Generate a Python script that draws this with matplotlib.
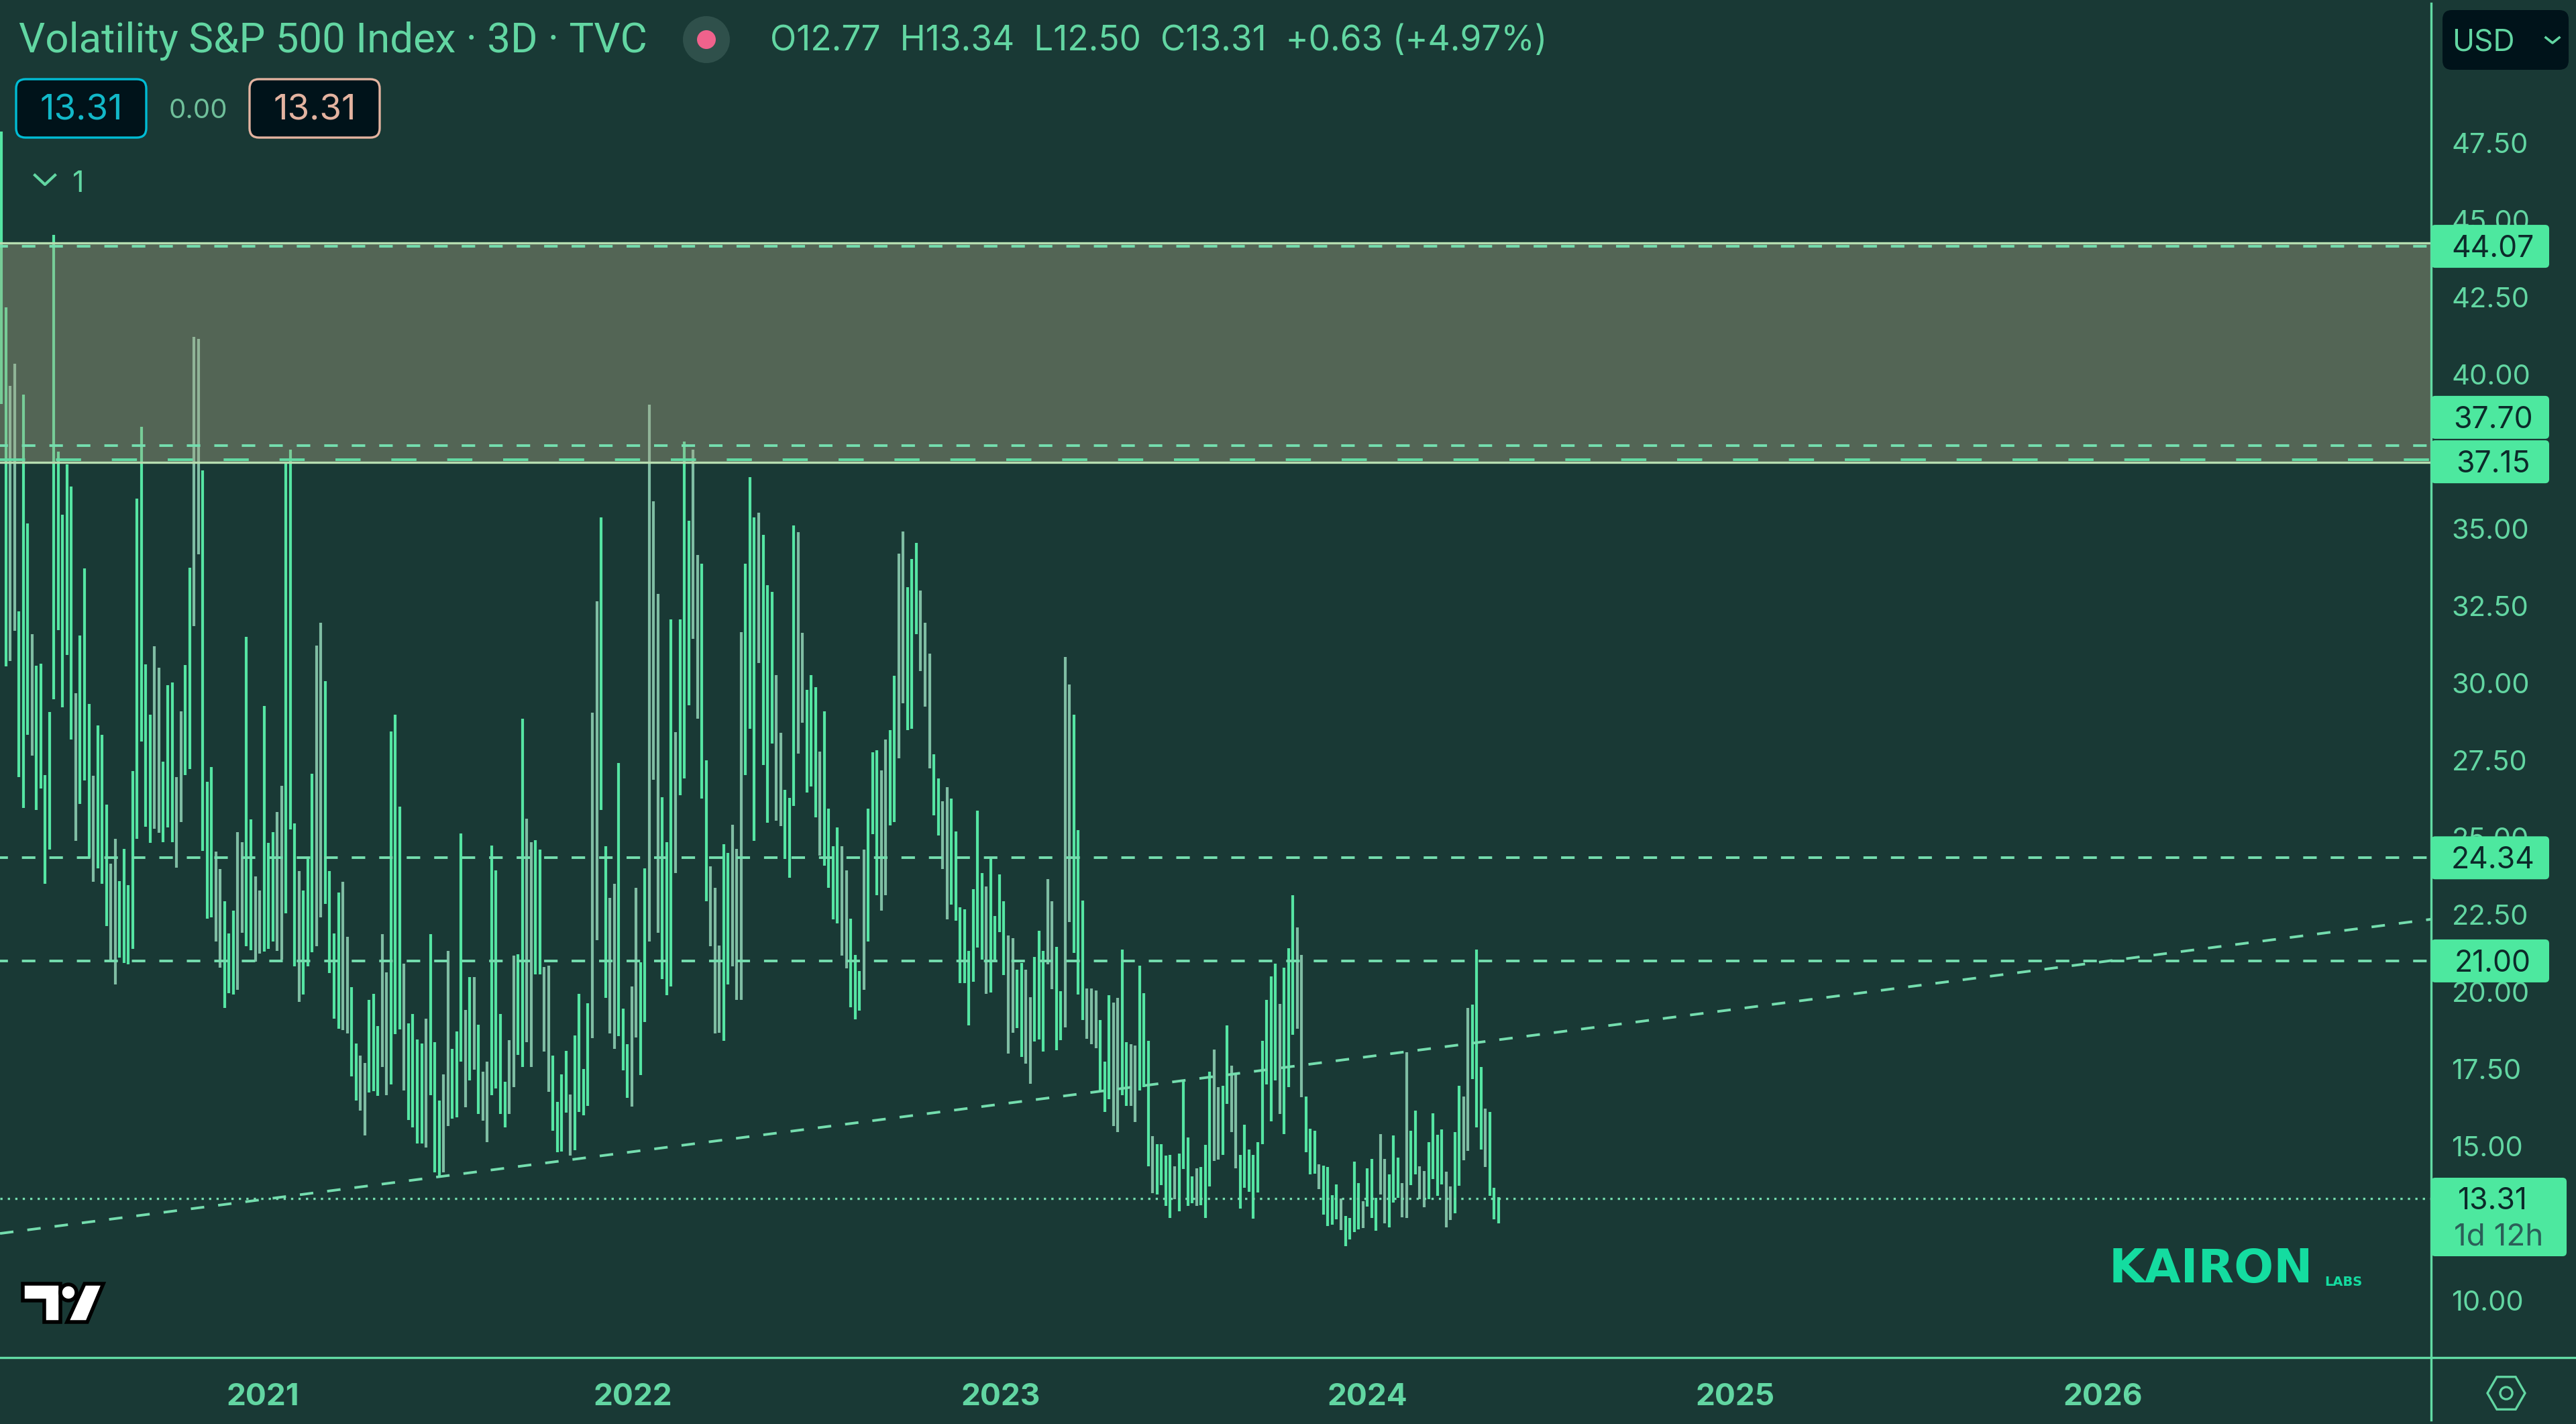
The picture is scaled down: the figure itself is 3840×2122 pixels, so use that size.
import matplotlib
matplotlib.use("Agg")
import matplotlib.pyplot as plt
from matplotlib.patches import FancyBboxPatch, Polygon, Circle, RegularPolygon

plt.rcParams['font.family'] = ['Inter', 'DejaVu Sans']
plt.rcParams['lines.scale_dashes'] = False

# 3D bars, left to right
highs = [47.87, 42.17, 39.63, 40.34, 32.32, 39.34, 35.17, 31.58, 30.56, 30.63,
         27.02, 29.06, 44.52, 37.5, 35.45, 37.08, 36.37, 29.67, 31.54, 33.71,
         29.32, 26.99, 28.63, 28.32, 26.06, 24.15, 24.95, 23.58, 24.63, 23.45,
         27.15, 35.98, 38.3, 30.6, 28.97, 31.19, 30.5, 27.45, 29.93, 30.02,
         26.95, 29.08, 30.58, 33.74, 41.21, 41.15, 36.89, 26.8, 27.28, 24.54,
         23.97, 22.93, 21.89, 22.63, 25.17, 24.84, 31.5, 25.58, 23.73, 23.28,
         29.26, 24.82, 25.17, 25.82, 26.67, 37.15, 37.56, 25.45, 23.91, 23.28,
         24.3, 27.06, 31.21, 31.95, 30.06, 23.91, 21.89, 23.21, 23.56, 21.78,
         20.15, 18.32, 17.93, 17.69, 19.74, 19.93, 18.89, 21.87, 20.63, 28.43,
         28.97, 25.99, 20.91, 18.97, 19.28, 18.45, 18.32, 19.13, 21.87, 18.37,
         16.47, 17.32, 21.32, 18.15, 18.71, 25.13, 19.41, 20.47, 20.47, 18.93,
         17.41, 17.74, 24.74, 23.93, 19.28, 17.08, 18.43, 21.17, 21.21, 28.84,
         25.6, 24.84, 24.91, 24.6, 20.8, 20.84, 17.93, 16.43, 17.32, 18.08,
         16.67, 18.58, 19.93, 17.5, 19.63, 29.04, 32.65, 35.37, 24.71, 23.04,
         23.5, 27.41, 19.45, 18.3, 20.17, 23.37, 20.95, 23.99, 39.02, 35.89,
         32.89, 26.3, 24.84, 32.06, 28.41, 32.06, 37.82, 35.26, 37.56, 34.15,
         33.87, 27.5, 24.06, 23.37, 21.5, 24.78, 24.5, 25.41, 24.63, 31.65,
         33.87, 36.67, 35.37, 35.52, 34.8, 33.17, 32.95, 30.26, 28.39, 26.54,
         26.28, 35.1, 34.89, 31.63, 29.78, 30.26, 29.87, 27.78, 29.08, 25.93,
         24.71, 25.32, 24.71, 23.93, 22.37, 21.19, 20.67, 24.61, 25.93, 27.76,
         27.82, 27.17, 28.17, 28.47, 30.23, 34.19, 34.91, 33.1, 34.02, 34.54,
         32.99, 31.95, 30.96, 27.69, 26.91, 26.17, 26.63, 26.26, 25.19, 22.74,
         22.67, 21.32, 23.32, 25.87, 23.84, 23.41, 24.34, 22.45, 23.8, 22.93,
         21.82, 21.73, 20.71, 20.93, 20.71, 19.82, 21.13, 21.97, 21.32, 23.65,
         22.93, 21.45, 20.02, 30.84, 29.95, 28.97, 25.23, 22.95, 20.1, 20.1,
         20.04, 19.08, 17.74, 19.89, 19.65, 19.8, 21.37, 18.37, 18.3, 18.26,
         20.84, 19.95, 18.41, 15.32, 15.06, 15.06, 14.69, 14.71, 14.34, 14.76,
         17.13, 15.28, 14.02, 14.28, 14.32, 15.04, 17.41, 18.13, 16.91, 16.95,
         18.91, 17.6, 17.32, 14.71, 15.69, 14.89, 14.71, 15.13, 18.41, 19.74,
         20.5, 20.91, 19.6, 20.78, 21.41, 23.13, 22.08, 21.19, 16.61, 15.56,
         15.5, 14.41, 14.37, 14.32, 13.41, 13.76, 13.3, 12.73, 12.67, 14.5,
         13.8, 13.21, 14.28, 14.58, 13.32, 15.39, 14.58, 14.08, 15.34, 14.63,
         13.8, 18.04, 15.5, 16.15, 14.34, 14.19, 15.13, 16.06, 15.36, 15.54,
         14.17, 13.69, 15.45, 16.95, 16.61, 19.47, 19.58, 21.37, 17.56, 16.21,
         16.1, 13.65, 13.34]
lows = [39.04, 30.54, 30.71, 31.69, 26.95, 25.95, 28.32, 27.65, 25.89, 26.58,
        23.5, 24.6, 29.47, 31.71, 29.21, 30.91, 28.17, 24.89, 26.08, 26.84,
        24.34, 23.56, 24.0, 23.5, 22.13, 20.98, 20.23, 21.11, 20.93, 20.89,
        21.39, 24.95, 28.11, 25.34, 24.82, 25.28, 25.15, 24.84, 25.32, 24.84,
        24.02, 25.5, 27.02, 27.21, 31.84, 34.17, 24.56, 22.37, 22.41, 21.63,
        20.78, 19.47, 19.95, 19.91, 20.06, 21.91, 21.47, 21.34, 20.98, 21.24,
        21.3, 21.39, 21.63, 21.32, 21.04, 22.54, 25.26, 20.82, 19.67, 19.91,
        20.82, 21.28, 21.47, 22.41, 22.84, 20.61, 19.13, 18.8, 18.76, 18.65,
        17.26, 16.47, 16.15, 15.34, 16.74, 16.78, 16.63, 17.56, 16.65, 16.99,
        18.63, 18.78, 16.8, 15.84, 15.6, 15.08, 15.08, 14.95, 16.65, 14.15,
        14.02, 14.15, 15.65, 15.89, 15.93, 17.74, 16.26, 17.13, 17.47, 16.04,
        15.82, 15.13, 16.65, 16.87, 16.04, 15.6, 16.04, 16.91, 17.95, 17.56,
        18.37, 17.56, 20.56, 20.56, 18.06, 16.76, 15.49, 14.8, 14.82, 16.08,
        14.69, 14.87, 16.1, 16.0, 16.3, 18.5, 21.67, 25.89, 19.8, 18.65,
        18.15, 18.56, 17.45, 16.56, 16.28, 18.52, 17.3, 19.02, 21.63, 26.87,
        21.91, 20.41, 19.89, 20.17, 23.84, 26.36, 26.91, 29.28, 31.43, 28.84,
        26.26, 22.93, 21.47, 18.65, 18.67, 18.41, 20.23, 20.82, 19.74, 19.74,
        27.02, 28.52, 24.89, 30.65, 27.34, 25.47, 28.04, 25.54, 25.37, 24.3,
        23.69, 26.02, 27.71, 28.71, 26.45, 26.65, 25.65, 24.41, 24.08, 23.37,
        22.34, 22.21, 21.17, 20.76, 19.5, 19.11, 19.39, 20.06, 21.63, 25.11,
        23.13, 22.63, 23.13, 25.39, 25.5, 27.56, 29.34, 28.47, 28.52, 31.58,
        30.39, 29.23, 27.24, 25.71, 25.06, 23.97, 22.34, 22.82, 22.3, 20.28,
        20.28, 18.91, 20.32, 21.43, 21.04, 19.93, 19.97, 21.0, 21.93, 20.54,
        18.0, 18.67, 18.82, 17.89, 17.67, 17.02, 18.39, 18.45, 18.06, 20.89,
        20.08, 18.1, 18.43, 18.84, 22.26, 21.26, 19.91, 19.08, 18.47, 18.3,
        18.17, 16.8, 16.1, 16.52, 15.65, 15.45, 16.65, 16.3, 16.3, 15.78,
        16.8, 16.91, 14.34, 13.47, 13.43, 13.73, 13.06, 12.67, 13.28, 12.89,
        14.26, 13.06, 13.15, 13.06, 13.08, 12.67, 13.69, 14.52, 14.56, 14.71,
        16.37, 15.45, 14.28, 12.97, 13.65, 13.52, 12.65, 13.5, 15.06, 16.99,
        15.8, 17.13, 16.04, 15.39, 16.91, 18.61, 18.8, 16.58, 14.8, 14.08,
        14.1, 13.6, 12.78, 12.41, 12.45, 12.63, 12.28, 11.76, 11.97, 12.21,
        12.3, 12.34, 13.04, 12.67, 12.26, 13.43, 12.5, 12.37, 13.17, 13.32,
        12.69, 12.67, 13.73, 14.08, 13.28, 13.02, 13.28, 13.93, 13.39, 13.76,
        12.37, 12.6, 12.82, 13.71, 14.54, 14.84, 17.17, 15.6, 14.89, 14.32,
        13.39, 12.63, 12.5]
# bar numbers (from 1) drawn in the greyer tone
grey_bars = [3, 4, 8, 18, 22, 26, 27, 36, 37, 41, 42, 45, 46, 50, 51, 55, 56, 59, 60,
             64, 65, 69, 73, 74, 79, 80, 83, 84, 88, 89, 93, 98, 102, 103, 107, 109,
             111, 112, 117, 118, 121, 122, 125, 126, 131, 136, 137, 140, 141, 145,
             146, 149, 150, 151, 155, 159, 160, 163, 164, 165, 168, 169, 170, 174,
             178, 179, 183, 184, 188, 193, 194, 198, 202, 203, 206, 207, 211, 212,
             213, 216, 217, 226, 231, 232, 235, 236, 240, 241, 244, 245, 249, 250,
             251, 255, 256, 259, 260, 264, 269, 274, 278, 279, 282, 283, 293, 297,
             298, 302, 307, 312, 316, 317, 321, 322, 325, 326, 331, 332, 335, 336, 340]

years = ['2021', '2022', '2023', '2024', '2025', '2026']
year_bars = [59.8, 144.2, 228.2, 312.0, 396.0, 480.0]
price_ticks = [10, 15, 17.5, 20, 22.5, 25, 27.5, 30, 32.5, 35, 40, 42.5, 45, 47.5]

zone_top = 44.26
zone_bottom = 37.15
dash_levels = [44.15, 37.70, 24.34, 21.00]
level_tags = ['44.07', '37.70', '37.15', '24.34', '21.00']
level_tag_vals = [44.15, 38.61, 37.17, 24.34, 21.00]
last_price = 13.31
trend_bars = [-0.3, 555.0]
trend_vals = [12.17, 22.35]

BG = '#193935'
GREEN = '#55E5A3'
GREY = '#7FBDA3'
TXT = '#62D6A2'
LINE = '#62DBA4'
PALE = '#B6DDB0'
TAG = '#4DE89F'
DARK = '#00131A'

W, H = 3840, 2122
AX_R, AX_B = 3624, 2023
fig = plt.figure(figsize=(W / 100, H / 100), dpi=100, facecolor=BG)
ax = fig.add_axes([0, (H - AX_B) / H, AX_R / W, AX_B / H], facecolor=BG)

n = len(highs)
xs = list(range(n))
colors = [GREY if i + 1 in grey_bars else GREEN for i in xs]
ax.vlines(xs, lows, highs, colors=colors, linewidth=3.0, zorder=3)

ax.axhspan(zone_bottom, zone_top, facecolor='#ABA887', alpha=0.4, edgecolor='none', zorder=4)
ax.axhline(zone_top, color=PALE, lw=2.4, zorder=5)
ax.axhline(zone_bottom, color=PALE, lw=2.4, zorder=5)
ax.axhline(zone_bottom + 0.09, color=LINE, lw=2.8, ls=(0, (27, 33)), zorder=5)
for lv in dash_levels:
    ax.axhline(lv, color='#74DDAE', lw=2.8, ls=(6, (14.5, 15)), zorder=5)
ax.axhline(last_price, color='#74DDAE', lw=2.4, ls=(0, (2.4, 5.6)), zorder=5)
ax.plot(trend_bars, trend_vals, color='#74DDAE', lw=2.8, ls=(0, (14.5, 15)), zorder=5)

ax.set_xlim(-0.306, 555.0)
ax.set_ylim(8.15, 52.13)
for s in ax.spines.values():
    s.set_visible(False)
ax.set_xticks(year_bars, years, fontweight='bold', fontsize=33, color=TXT)
ax.set_yticks(price_ticks, [f'{v:.2f}' for v in price_ticks], fontsize=30, color=TXT)
ax.yaxis.tick_right()
ax.tick_params(axis='x', length=0, pad=27)
ax.tick_params(axis='y', length=0, pad=22)

# pixel overlay for the TradingView furniture
ui = fig.add_axes([0, 0, 1, 1], zorder=5)
ui.set_xlim(0, W)
ui.set_ylim(H, 0)
ui.axis('off')


def py(v):
    return H - ax.transData.transform((0, v))[1]


def box(x0, y0, x1, y1, fc, ec='none', lw=0, r=8):
    ui.add_patch(FancyBboxPatch((x0, y0), x1 - x0, y1 - y0, boxstyle=f'round,pad=0,rounding_size={r}',
                                fc=fc, ec=ec, lw=lw, zorder=6))


ui.plot([AX_R, AX_R], [5, H - 6], color=LINE, lw=2.4, zorder=5)
ui.plot([0, W], [AX_B, AX_B], color=LINE, lw=2.4, zorder=5)

# header
ui.text(28, 61, 'Volatility S&P 500 Index · 3D · TVC', color=TXT, fontsize=44.5, family=['Roboto'], va='center')
ui.add_patch(Circle((1053, 59), 35, fc='#2F504B', ec='none', zorder=5))
ui.add_patch(Circle((1053, 59), 14, fc='#F0628C', ec='none', zorder=6))
ui.text(1148, 62, 'O12.77  H13.34  L12.50  C13.31  +0.63 (+4.97%)', color=TXT, fontsize=37, va='center')

box(24, 118, 218, 205, DARK, '#00BCD4', 2.4, 14)
ui.text(121, 165, '13.31', color='#12B8C8', fontsize=38, ha='center', va='center', zorder=7)
ui.text(295, 165, '0.00', color='#6FBF9A', fontsize=29, ha='center', va='center')
box(372, 118, 566, 205, DARK, '#E3B3A0', 2.4, 14)
ui.text(469, 165, '13.31', color='#E3B3A0', fontsize=38, ha='center', va='center', zorder=7)
ui.plot([52, 67, 82], [261, 275, 261], color=TXT, lw=3)
ui.text(117, 274, '1', color=TXT, fontsize=31, ha='center', va='center')

box(3641, 15, 3829, 104, DARK, r=14)
ui.text(3655, 64, 'USD', color=TXT, fontsize=32, va='center', zorder=7)
ui.plot([3795, 3805, 3815], [56, 64, 56], color=TXT, lw=2.6, zorder=7)

# price tags on the axis
for tag, v in zip(level_tags, level_tag_vals):
    y = py(v)
    box(AX_R, y - 32, 3800, y + 32, TAG, r=6)
    ui.text(3716, y + 4, tag, color='#0C2A2A', fontsize=32, ha='center', va='center', zorder=7)
box(AX_R, 1755, 3826, 1872, TAG, r=6)
ui.text(3716, py(last_price) + 4, f'{last_price:.2f}', color='#0C2A2A', fontsize=32, ha='center', va='center', zorder=7)
ui.text(3658, 1843, '1d 12h', color='#2B5F58', fontsize=33, va='center', zorder=7)

# settings icon
ui.add_patch(RegularPolygon((3736, 2076), 6, radius=28, orientation=0.5236 * 3, fc='none', ec=TXT, lw=2.4))
ui.add_patch(Circle((3736, 2076), 9, fc='none', ec=TXT, lw=2.4))

# Kairon logo
ui.text(3144, 1892, 'KAIRON', color='#14DCA0', fontsize=50, fontweight='bold', family=['DejaVu Sans'], va='center')
ui.text(3465, 1910, 'LABS', color='#14DCA0', fontsize=14, fontweight='bold', family=['DejaVu Sans'], va='center')

# TradingView logo
for patch in (Polygon([(34, 1913), (90, 1913), (90, 1970), (66, 1970), (66, 1938), (34, 1938)], closed=True),
              Circle((102, 1926), 12),
              Polygon([(126, 1913), (154, 1913), (130, 1970), (100, 1970)], closed=True)):
    patch.set(fc='white', ec='black', lw=4, zorder=6)
    ui.add_patch(patch)

fig.savefig('out.png', dpi=100, facecolor=BG)
